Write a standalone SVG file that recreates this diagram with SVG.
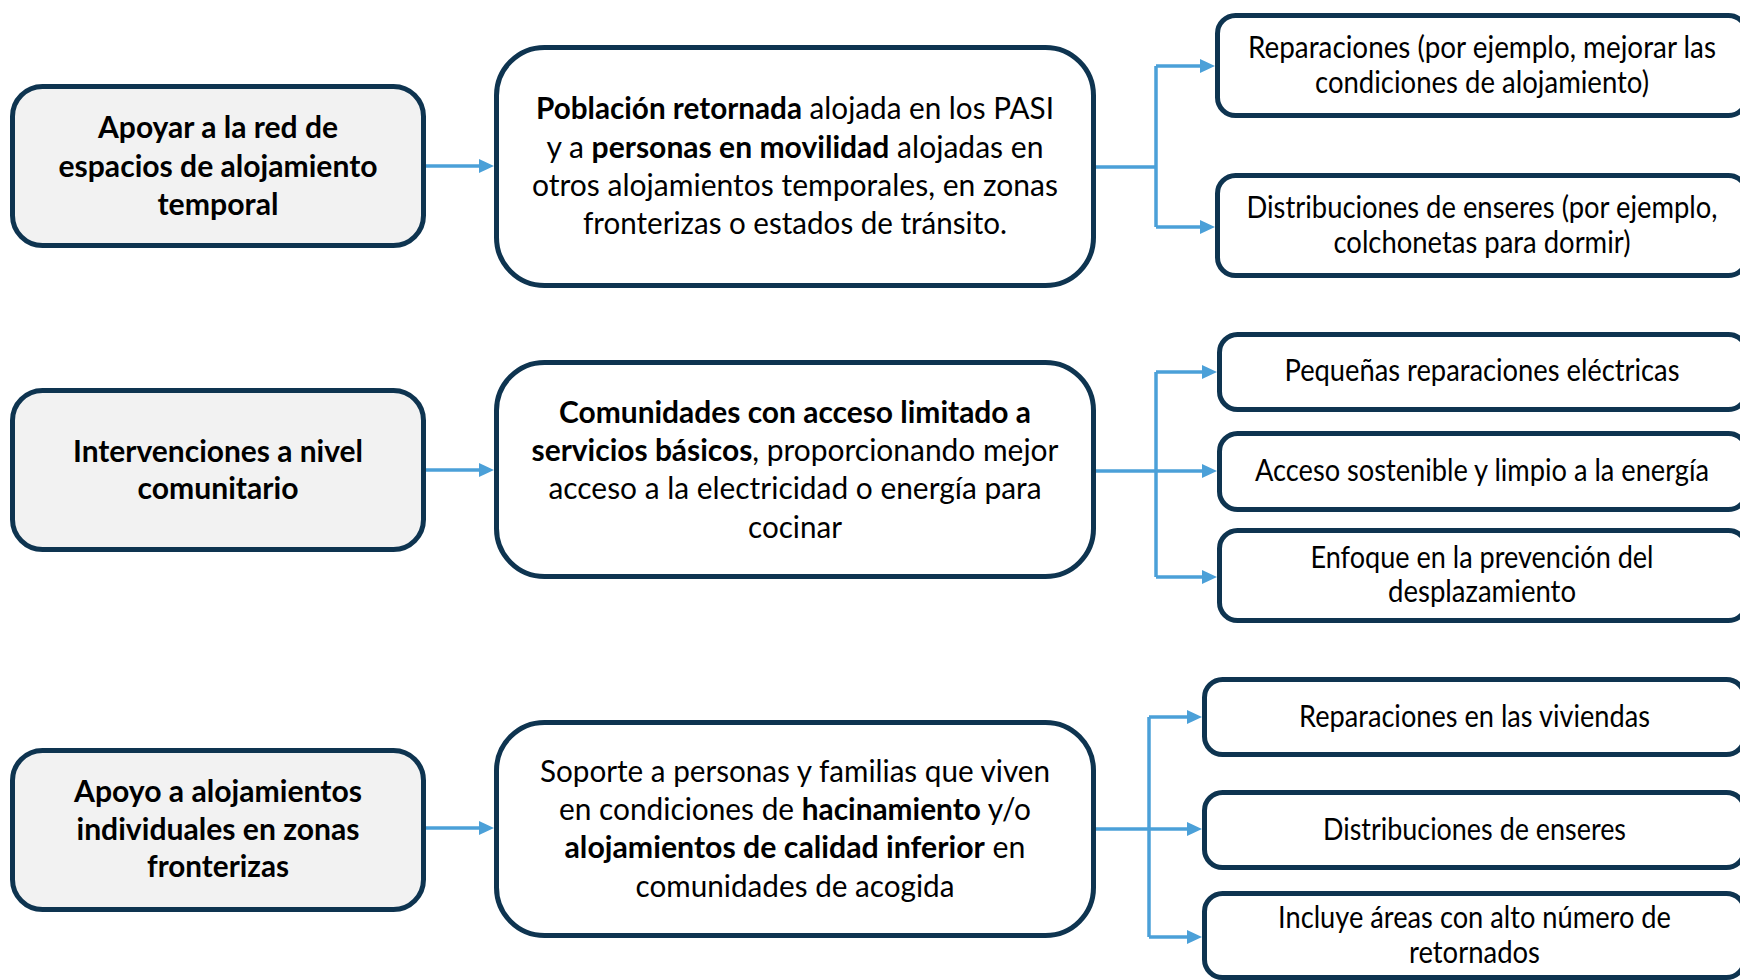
<svg xmlns="http://www.w3.org/2000/svg" width="1740" height="980" viewBox="0 0 1740 980">
<defs>
<style>
.box{stroke:#0e3450;stroke-width:5;fill:#ffffff}
.lbox{stroke:#0e3450;stroke-width:5;fill:#f2f2f2}
.t{font-family:Lato,"Liberation Sans",sans-serif;font-size:30px;fill:#000;text-anchor:middle}
.b{font-weight:bold}
.c{stroke:#4ba0d8;stroke-width:3.5;fill:none}
</style>
<marker id="ah" markerUnits="userSpaceOnUse" markerWidth="16" markerHeight="15" refX="5" refY="7" orient="auto" viewBox="0 0 16 15">
<path d="M0,0 L15,7 L0,14 z" fill="#4ba0d8"/>
</marker>
</defs>
<rect width="1740" height="980" fill="#ffffff"/>

<g id="connectors">
<path class="c" marker-end="url(#ah)" d="M426,166 L484,166"/>
<path class="c" d="M1096,167 L1156,167 M1156,66 L1156,227"/>
<path class="c" marker-end="url(#ah)" d="M1156,66 L1205,66"/>
<path class="c" marker-end="url(#ah)" d="M1156,227 L1205,227"/>

<path class="c" marker-end="url(#ah)" d="M426,470 L484,470"/>
<path class="c" d="M1156,372 L1156,577"/>
<path class="c" marker-end="url(#ah)" d="M1096,471 L1207,471"/>
<path class="c" marker-end="url(#ah)" d="M1156,372 L1207,372"/>
<path class="c" marker-end="url(#ah)" d="M1156,577 L1207,577"/>

<path class="c" marker-end="url(#ah)" d="M426,828 L484,828"/>
<path class="c" d="M1149,717 L1149,937"/>
<path class="c" marker-end="url(#ah)" d="M1096,829 L1192,829"/>
<path class="c" marker-end="url(#ah)" d="M1149,717 L1192,717"/>
<path class="c" marker-end="url(#ah)" d="M1149,937 L1192,937"/>
</g>

<g id="node-a1">
<rect class="lbox" x="12.5" y="86.5" width="411" height="159" rx="30"/>
<text class="t b" x="218" y="138" textLength="240" lengthAdjust="spacingAndGlyphs">Apoyar a la red de</text>
<text class="t b" x="218" y="177" textLength="319" lengthAdjust="spacingAndGlyphs">espacios de alojamiento</text>
<text class="t b" x="218" y="215" textLength="121" lengthAdjust="spacingAndGlyphs">temporal</text>
</g>
<g id="node-a2">
<rect class="lbox" x="12.5" y="390.5" width="411" height="159" rx="30"/>
<text class="t b" x="218" y="462" textLength="290" lengthAdjust="spacingAndGlyphs">Intervenciones a nivel</text>
<text class="t b" x="218" y="499" textLength="161" lengthAdjust="spacingAndGlyphs">comunitario</text>
</g>
<g id="node-a3">
<rect class="lbox" x="12.5" y="750.5" width="411" height="159" rx="30"/>
<text class="t b" x="218" y="802" textLength="288" lengthAdjust="spacingAndGlyphs">Apoyo a alojamientos</text>
<text class="t b" x="218" y="840" textLength="283" lengthAdjust="spacingAndGlyphs">individuales en zonas</text>
<text class="t b" x="218" y="877" textLength="142" lengthAdjust="spacingAndGlyphs">fronterizas</text>
</g>

<g id="node-b1">
<rect class="box" x="496.5" y="47.5" width="597" height="238" rx="48"/>
<text class="t" x="795" y="119" textLength="518" lengthAdjust="spacingAndGlyphs"><tspan class="b">Población retornada</tspan> alojada en los PASI</text>
<text class="t" x="795" y="158" textLength="497" lengthAdjust="spacingAndGlyphs">y a <tspan class="b">personas en movilidad</tspan> alojadas en</text>
<text class="t" x="795" y="196" textLength="526" lengthAdjust="spacingAndGlyphs">otros alojamientos temporales, en zonas</text>
<text class="t" x="795" y="234" textLength="424" lengthAdjust="spacingAndGlyphs">fronterizas o estados de tránsito.</text>
</g>
<g id="node-b2">
<rect class="box" x="496.5" y="362.5" width="597" height="214" rx="48"/>
<text class="t b" x="795" y="423" textLength="472" lengthAdjust="spacingAndGlyphs">Comunidades con acceso limitado a</text>
<text class="t" x="795" y="461" textLength="527" lengthAdjust="spacingAndGlyphs"><tspan class="b">servicios básicos</tspan>, proporcionando mejor</text>
<text class="t" x="795" y="499" textLength="493" lengthAdjust="spacingAndGlyphs">acceso a la electricidad o energía para</text>
<text class="t" x="795" y="538" textLength="94" lengthAdjust="spacingAndGlyphs">cocinar</text>
</g>
<g id="node-b3">
<rect class="box" x="496.5" y="722.5" width="597" height="213" rx="48"/>
<text class="t" x="795" y="782" textLength="510" lengthAdjust="spacingAndGlyphs">Soporte a personas y familias que viven</text>
<text class="t" x="795" y="820" textLength="472" lengthAdjust="spacingAndGlyphs">en condiciones de <tspan class="b">hacinamiento</tspan> y/o</text>
<text class="t" x="795" y="858" textLength="461" lengthAdjust="spacingAndGlyphs"><tspan class="b">alojamientos de calidad inferior</tspan> en</text>
<text class="t" x="795" y="897" textLength="319" lengthAdjust="spacingAndGlyphs">comunidades de acogida</text>
</g>

<g id="node-c1">
<rect class="box" x="1217.5" y="15.5" width="529" height="100" rx="18"/>
<text class="t" x="1482" y="58" textLength="468" lengthAdjust="spacingAndGlyphs">Reparaciones (por ejemplo, mejorar las</text>
<text class="t" x="1482" y="93" textLength="334" lengthAdjust="spacingAndGlyphs">condiciones de alojamiento)</text>
</g>
<g id="node-c2">
<rect class="box" x="1217.5" y="175.5" width="529" height="100" rx="18"/>
<text class="t" x="1482" y="218" textLength="471" lengthAdjust="spacingAndGlyphs">Distribuciones de enseres (por ejemplo,</text>
<text class="t" x="1482" y="253" textLength="297" lengthAdjust="spacingAndGlyphs">colchonetas para dormir)</text>
</g>
<g id="node-c3">
<rect class="box" x="1219.5" y="334.5" width="527" height="75" rx="18"/>
<text class="t" x="1482" y="381" textLength="395" lengthAdjust="spacingAndGlyphs">Pequeñas reparaciones eléctricas</text>
</g>
<g id="node-c4">
<rect class="box" x="1219.5" y="433.5" width="527" height="76" rx="18"/>
<text class="t" x="1482" y="481" textLength="454" lengthAdjust="spacingAndGlyphs">Acceso sostenible y limpio a la energía</text>
</g>
<g id="node-c5">
<rect class="box" x="1219.5" y="530.5" width="527" height="90" rx="18"/>
<text class="t" x="1482" y="568" textLength="343" lengthAdjust="spacingAndGlyphs">Enfoque en la prevención del</text>
<text class="t" x="1482" y="602" textLength="188" lengthAdjust="spacingAndGlyphs">desplazamiento</text>
</g>
<g id="node-c6">
<rect class="box" x="1204.5" y="679.5" width="540" height="75" rx="18"/>
<text class="t" x="1474.5" y="727" textLength="351" lengthAdjust="spacingAndGlyphs">Reparaciones en las viviendas</text>
</g>
<g id="node-c7">
<rect class="box" x="1204.5" y="792.5" width="540" height="75" rx="18"/>
<text class="t" x="1474.5" y="840" textLength="303" lengthAdjust="spacingAndGlyphs">Distribuciones de enseres</text>
</g>
<g id="node-c8">
<rect class="box" x="1204.5" y="893.5" width="540" height="84" rx="18"/>
<text class="t" x="1474.5" y="928" textLength="393" lengthAdjust="spacingAndGlyphs">Incluye áreas con alto número de</text>
<text class="t" x="1474.5" y="963" textLength="131" lengthAdjust="spacingAndGlyphs">retornados</text>
</g>
</svg>
